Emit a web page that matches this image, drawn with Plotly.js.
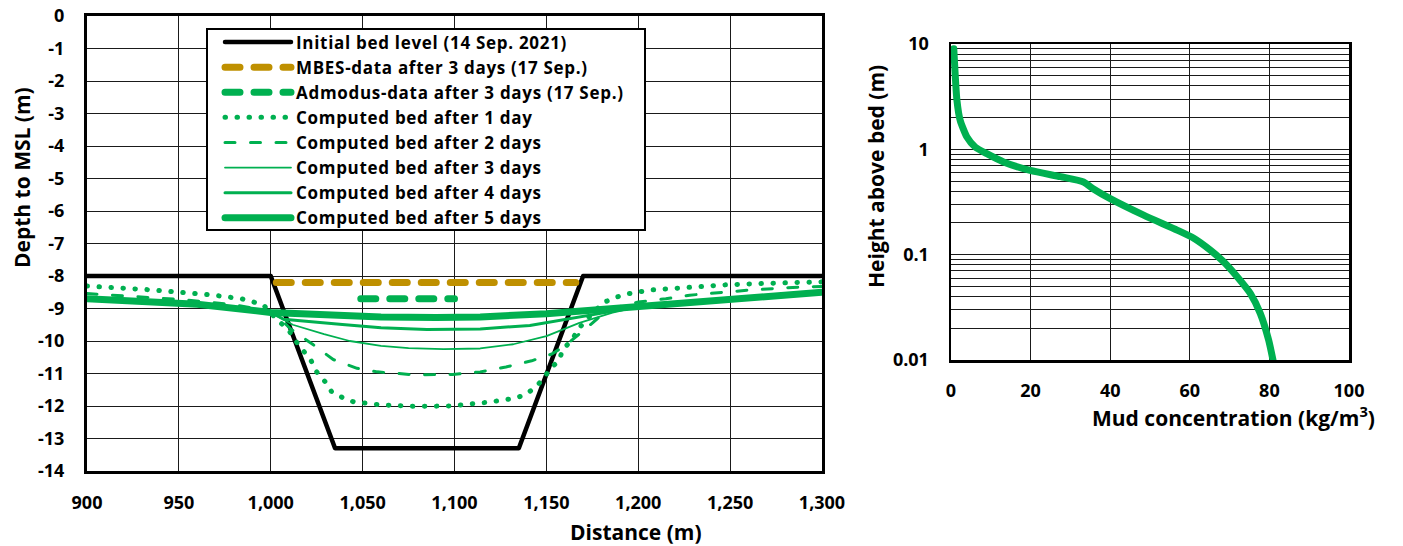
<!DOCTYPE html>
<html>
<head>
<meta charset="utf-8">
<script src="https://cdn.plot.ly/plotly-3.0.1.min.js"></script>
<style>
  html, body { margin: 0; padding: 0; background: #fff; }
  #chart { width: 1403px; height: 546px; }
  path.js-line { stroke-linecap: round !important; stroke-linejoin: round !important; }
  text.legendtext { letter-spacing: 0.7px; }
</style>
</head>
<body>
<div id="chart"></div>
<script>
// ---------- Left panel data: bed level (m to MSL) vs distance (m) ----------
const initialX = [900, 1000, 1035, 1135, 1170, 1300];
const initialY = [-8.0, -8.0, -13.3, -13.3, -8.0, -8.0];

const mbesX = [1003, 1166];
const mbesY = [-8.2, -8.2];

const admodusX = [1049, 1100];
const admodusY = [-8.7, -8.7];

const day1X = [900, 936, 969, 984, 990, 996, 1001, 1005, 1010, 1014, 1018, 1022, 1025, 1030, 1033, 1039, 1045, 1052, 1059, 1078, 1098, 1119, 1126, 1132, 1138, 1144, 1148, 1152, 1157, 1159, 1164, 1167, 1172, 1181, 1187, 1194, 1207, 1227, 1248, 1268, 1300];
const day1Y = [-8.31, -8.43, -8.59, -8.70, -8.79, -8.89, -9.20, -9.41, -9.69, -10.03, -10.33, -10.61, -10.95, -11.28, -11.55, -11.74, -11.87, -11.92, -11.96, -12.01, -12.00, -11.88, -11.84, -11.77, -11.67, -11.43, -11.18, -10.87, -10.58, -10.25, -9.97, -9.66, -9.33, -8.82, -8.67, -8.55, -8.43, -8.34, -8.27, -8.23, -8.18];

const day2X = [900, 950, 980, 1000, 1005, 1011, 1023, 1034, 1047, 1058, 1078, 1099, 1114, 1128, 1142, 1153, 1160, 1166, 1170, 1178, 1187, 1200, 1215, 1228, 1241, 1259, 1281, 1300];
const day2Y = [-8.54, -8.72, -8.88, -9.10, -9.30, -9.64, -10.11, -10.57, -10.84, -10.95, -11.04, -11.03, -10.95, -10.80, -10.61, -10.40, -10.15, -9.88, -9.69, -9.30, -8.98, -8.80, -8.70, -8.59, -8.52, -8.44, -8.36, -8.32];

const day3X = [900, 950, 1000, 1012, 1029, 1043, 1060, 1075, 1094, 1114, 1132, 1150, 1168, 1186, 1200, 1250, 1300];
const day3Y = [-8.68, -8.82, -9.12, -9.50, -9.79, -10.00, -10.15, -10.22, -10.25, -10.23, -10.10, -9.85, -9.44, -9.13, -8.95, -8.68, -8.50];

const day4X = [900, 950, 1000, 1007, 1039, 1060, 1085, 1114, 1141, 1168, 1186, 1200, 1250, 1300];
const day4Y = [-8.70, -8.83, -9.12, -9.33, -9.49, -9.59, -9.65, -9.63, -9.52, -9.26, -9.08, -8.95, -8.68, -8.50];

const day5X = [900, 960, 1000, 1034, 1060, 1090, 1114, 1150, 1186, 1200, 1250, 1300];
const day5Y = [-8.70, -8.87, -9.12, -9.22, -9.26, -9.28, -9.26, -9.16, -9.00, -8.93, -8.67, -8.50];

const seriesNames = [
  'Initial bed level (14 Sep. 2021)',
  'MBES-data after 3 days (17 Sep.)',
  'Admodus-data after 3 days (17 Sep.)',
  'Computed bed after 1 day',
  'Computed bed after 2 days',
  'Computed bed after 3 days',
  'Computed bed after 4 days',
  'Computed bed after 5 days'
];

const yTickVals = [0, -1, -2, -3, -4, -5, -6, -7, -8, -9, -10, -11, -12, -13, -14];
const yTickText = ['0', '-1', '-2', '-3', '-4', '-5', '-6', '-7', '-8', '-9', '-10', '-11', '-12', '-13', '-14'];

// ---------- Right panel data: mud concentration profile ----------
const mudConc = [0.7, 1.5, 2.3, 4.0, 6.1, 9.0, 13.2, 19.9, 27.5, 33.3, 35.8, 40.0, 48.4, 56.8, 61.0, 65.2, 68.5, 71.9, 75.2, 77.7, 79.8, 80.9];
const mudHeight = [9.0, 2.9, 1.89, 1.31, 1.05, 0.91, 0.76, 0.63, 0.55, 0.49, 0.42, 0.34, 0.237, 0.171, 0.143, 0.110, 0.0855, 0.0616, 0.0428, 0.0277, 0.0155, 0.0100];

const logTickVals = [0.01,0.02,0.03,0.04,0.05,0.06,0.07,0.08,0.09,0.1,0.2,0.3,0.4,0.5,0.6,0.7,0.8,0.9,1,2,3,4,5,6,7,8,9,10];
const logTickText = ['0.01',' ',' ',' ',' ',' ',' ',' ',' ','0.1',' ',' ',' ',' ',' ',' ',' ',' ','1',' ',' ',' ',' ',' ',' ',' ',' ','10'];

// ---------- Styling ----------
const GREEN = '#00B050';
const GOLD = '#BF9000';
const FONT = '"Open Sans", Lato, sans-serif';

const traces = [
  {x: initialX, y: initialY, name: seriesNames[0], mode: 'lines', line: {color: '#000', width: 4.5}},
  {x: mbesX, y: mbesY, name: seriesNames[1], mode: 'lines', line: {color: GOLD, width: 7, dash: '15px,14px'}},
  {x: admodusX, y: admodusY, name: seriesNames[2], mode: 'lines', line: {color: GREEN, width: 7, dash: '15px,14px'}},
  {x: day1X, y: day1Y, name: seriesNames[3], mode: 'lines', line: {color: GREEN, width: 5, dash: '0.5px,11.5px'}},
  {x: day2X, y: day2Y, name: seriesNames[4], mode: 'lines', line: {color: GREEN, width: 3, dash: '10px,15.5px'}},
  {x: day3X, y: day3Y, name: seriesNames[5], mode: 'lines', line: {color: GREEN, width: 1.8}},
  {x: day4X, y: day4Y, name: seriesNames[6], mode: 'lines', line: {color: GREEN, width: 3}},
  {x: day5X, y: day5Y, name: seriesNames[7], mode: 'lines', line: {color: GREEN, width: 7}},
  {x: mudConc, y: mudHeight, xaxis: 'x2', yaxis: 'y2', mode: 'lines', showlegend: false,
   line: {color: GREEN, width: 7, shape: 'spline', smoothing: 0.6}}
];

const W = 1403, H = 546;
const px = v => v / W;
const py = v => (H - v) / H;

const tickFont = {family: FONT, size: 18, weight: 'bold', color: '#000'};
const titleFont = {family: FONT, size: 21, weight: 'bold', color: '#000'};

const layout = {
  width: W, height: H,
  margin: {l: 0, r: 0, t: 0, b: 0, pad: 0},
  paper_bgcolor: '#fff', plot_bgcolor: '#fff',
  font: {family: FONT, color: '#000'},
  showlegend: true,
  legend: {
    x: px(220), y: py(24.5), xanchor: 'left', yanchor: 'top',
    bgcolor: 'rgba(0,0,0,0)', borderwidth: 0,
    font: {family: FONT, size: 17, weight: 'bold', color: '#000'},
    itemwidth: 66, tracegroupgap: 0
  },
  shapes: [
    // legend frame
    {type: 'rect', xref: 'paper', yref: 'paper', layer: 'above',
     x0: px(207), x1: px(645), y0: py(230), y1: py(29),
     fillcolor: '#fff', line: {color: '#000', width: 2}}
  ],
  xaxis: {
    domain: [px(87), px(822)], range: [900, 1300], dtick: 50, tick0: 900,
    tickformat: ',d', ticks: '', ticklabelstandoff: 13,
    showgrid: true, gridcolor: '#1a1a1a', gridwidth: 1,
    showline: true, linecolor: '#000', linewidth: 3, mirror: true,
    zeroline: false, tickfont: tickFont, anchor: 'y'
  },
  yaxis: {
    domain: [py(471), py(16)], range: [-14, 0],
    tickvals: yTickVals, ticktext: yTickText, ticks: '', ticklabelstandoff: 16,
    showgrid: true, gridcolor: '#1a1a1a', gridwidth: 1,
    showline: true, linecolor: '#000', linewidth: 3, mirror: true,
    zeroline: false, tickfont: tickFont, anchor: 'x'
  },
  xaxis2: {
    domain: [px(951), px(1349)], range: [0, 100], dtick: 20, tick0: 0,
    ticks: '', ticklabelstandoff: 13,
    showgrid: true, gridcolor: '#1a1a1a', gridwidth: 1,
    showline: true, linecolor: '#000', linewidth: 2.5, mirror: true,
    zeroline: false, tickfont: tickFont, anchor: 'y2'
  },
  yaxis2: {
    domain: [py(360), py(44)], type: 'log', range: [-2, 1],
    tickvals: logTickVals, ticktext: logTickText, ticks: '', ticklabelstandoff: 16,
    showgrid: true, gridcolor: '#1a1a1a', gridwidth: 1,
    showline: true, linecolor: '#000', linewidth: 2.5, mirror: true,
    zeroline: false, tickfont: tickFont, anchor: 'x2'
  },
  annotations: [
    {text: 'Depth to MSL (m)', xref: 'paper', yref: 'paper', x: px(22), y: py(178),
     textangle: -90, showarrow: false, font: titleFont, xanchor: 'center', yanchor: 'middle'},
    {text: 'Distance (m)', xref: 'paper', yref: 'paper', x: px(636), y: py(532),
     showarrow: false, font: titleFont, xanchor: 'center', yanchor: 'middle'},
    {text: 'Height above bed (m)', xref: 'paper', yref: 'paper', x: px(876), y: py(177),
     textangle: -90, showarrow: false, font: titleFont, xanchor: 'center', yanchor: 'middle'},
    {text: 'Mud concentration (kg/m<sup>3</sup>)', xref: 'paper', yref: 'paper', x: px(1233), y: py(416),
     showarrow: false, font: titleFont, xanchor: 'center', yanchor: 'middle'}
  ]
};

Plotly.newPlot('chart', traces, layout, {displayModeBar: false, staticPlot: true});
</script>
</body>
</html>
